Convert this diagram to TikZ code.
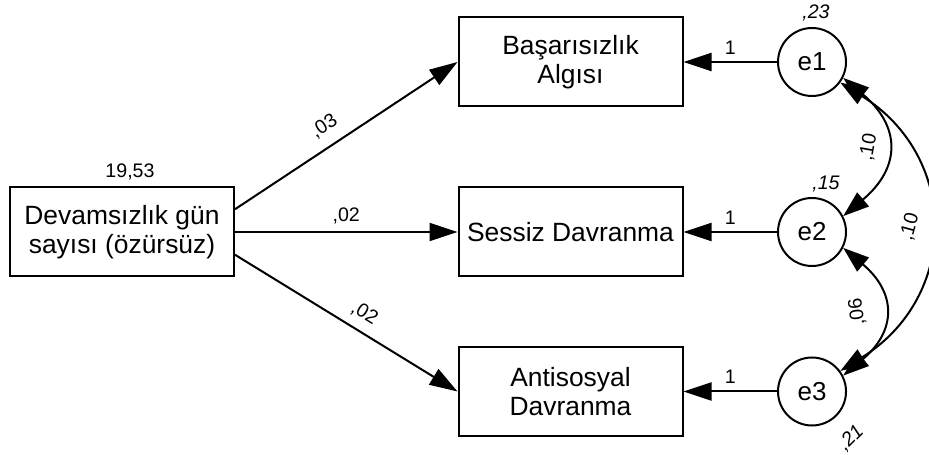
\documentclass[tikz,border=0pt]{standalone}
\usepackage{fontspec}
\setmainfont{Liberation Sans}
\usetikzlibrary{arrows.meta}
\usetikzlibrary{calc}

\begin{document}
\begin{tikzpicture}[x=0.5pt,y=0.5pt,
  kutu/.style={draw,line width=1pt,minimum width=112pt,minimum height=44.5pt,inner sep=0pt,align=center,font=\fontsize{13.2}{14.5}\selectfont},
  hata/.style={draw,circle,line width=1pt,minimum size=34pt,inner sep=0pt,font=\fontsize{13}{15}\selectfont},
  yol/.style={line width=1pt,-{Triangle[length=14pt,width=9pt]}},
  kov/.style={line width=1pt,{Triangle[length=13pt,width=9pt]}-{Triangle[length=13pt,width=9pt]}},
  etiket/.style={font=\fontsize{9.8}{11}\selectfont},
  varyans/.style={font=\fontsize{9.8}{11}\selectfont\itshape}]
\useasboundingbox (0,0) rectangle (929,454);
% gozlenen degiskenler
\node [kutu] (neden) at (122,222) {Devamsızlık gün\\sayısı (özürsüz)};
\node [kutu] (basari) at (570.5,392) {Başarısızlık\\Algısı};
\node [kutu] (sessiz) at (570.5,222) {Sessiz Davranma};
\node [kutu] (antisos) at (570.5,62.5) {Antisosyal\\Davranma};
\node [etiket] (ortalama) at (130,282) {19,53};
% hata terimleri
\node [hata] (e1) at (812,392) {e1};
\node [hata] (e2) at (812,222) {e2};
\node [hata] (e3) at (812,62.5) {e3};
\node [varyans] at (816,441) {,23};
\node [varyans] at (826,270) {,15};
\node [varyans,rotate=45] at (851,16) {,21};
% regresyon yollari
\draw [yol] ($(neden.north east)!0.25!(neden.south east)$) -- (basari.west) node [etiket,pos=0.45,sloped,above=2pt] {,03};
\draw [yol] (neden.east) -- (sessiz.west) node [etiket,midway,above] {,02};
\draw [yol] ($(neden.north east)!0.75!(neden.south east)$) -- (antisos.west) node [etiket,pos=0.54,sloped,above=1pt] {,02};
\draw [yol] (e1) -- (basari.east) node [etiket,midway,above] {1};
\draw [yol] (e2) -- (sessiz.east) node [etiket,midway,above] {1};
\draw [yol] (e3) -- (antisos.east) node [etiket,midway,above] {1};
% kovaryanslar
\draw [kov] (e1.-27) to [bend left=50,looseness=1.4] node [etiket,midway,xshift=-9pt,rotate=80] {,10} (e2.27);
\draw [kov] (e2.-27) to [bend left=50,looseness=1.4] node [etiket,midway,xshift=-13pt,rotate=97] {,06} (e3.27);
\draw [kov] (e1.-36) to [bend left=58,looseness=1.25] node [etiket,midway,xshift=-10pt,rotate=75] {,10} (e3.36);
\end{tikzpicture}
\end{document}
